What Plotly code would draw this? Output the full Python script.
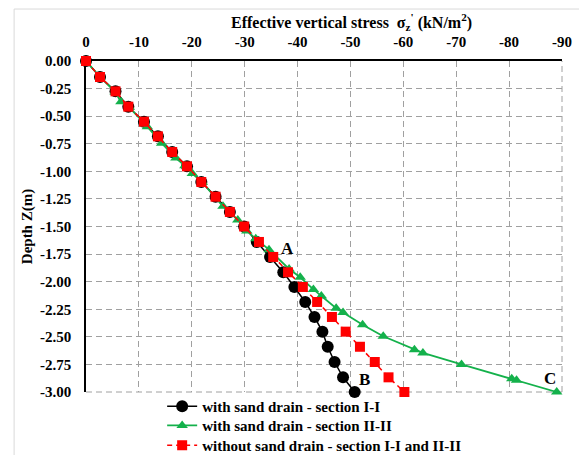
import plotly.graph_objects as go

# Depths (m)
depth_main = [0.0, -0.145, -0.275, -0.414, -0.55, -0.683, -0.825, -0.955, -1.097, -1.23,
              -1.368, -1.50, -1.64, -1.776, -1.915, -2.048, -2.184, -2.32, -2.453, -2.59,
              -2.728, -2.867, -3.0]

# without sand drain - section I-I and II-II
stress_no_drain = [0.0, -2.65, -5.58, -8.0, -10.96, -13.6, -16.3, -19.1, -21.8, -24.5,
                   -27.2, -29.9, -32.7, -35.4, -38.2, -41.0, -43.7, -46.5, -49.1, -51.8,
                   -54.6, -57.2, -60.2]

# with sand drain - section I-I
stress_drain_I = [0.0, -2.65, -5.58, -8.0, -10.96, -13.6, -16.3, -19.1, -21.8, -24.5,
                  -27.2, -29.9, -32.3, -34.8, -37.3, -39.4, -41.45, -43.2, -44.7, -45.7,
                  -47.0, -48.6, -50.8]

# with sand drain - section II-II
depth_II = [0.0, -0.145, -0.28, -0.37, -0.42, -0.57, -0.595, -0.745, -0.88, -0.95,
            -1.02, -1.10, -1.317, -1.44, -1.54, -1.61, -1.71, -1.885, -1.96, -2.07,
            -2.13, -2.24, -2.28, -2.39, -2.495, -2.616, -2.646, -2.75, -2.879, -2.894, -3.0]
stress_drain_II = [0.0, -2.65, -5.5, -6.6, -8.2, -11.1, -11.6, -14.3, -17.0, -18.7,
                   -20.1, -22.0, -25.9, -28.7, -30.4, -32.1, -34.6, -38.4, -40.5, -43.0,
                   -44.5, -47.3, -48.6, -52.3, -56.2, -62.1, -63.7, -71.0, -80.5, -81.4, -89.0]

x_ticks = [0, -10, -20, -30, -40, -50, -60, -70, -80, -90]
x_tick_text = ["0", "-10", "-20", "-30", "-40", "-50", "-60", "-70", "-80", "-90"]
y_ticks = [0.0, -0.25, -0.5, -0.75, -1.0, -1.25, -1.5, -1.75, -2.0, -2.25, -2.5, -2.75, -3.0]
y_tick_text = ["0.00", "-0.25", "-0.50", "-0.75", "-1.00", "-1.25", "-1.50", "-1.75",
               "-2.00", "-2.25", "-2.50", "-2.75", "-3.00"]

labels = ["A", "B", "C"]
label_x = [-38.1, -52.7, -87.8]
label_y = [-1.70, -2.89, -2.88]

FONT = "Liberation Serif"
GREEN = "#14b14b"
GRID = "#a0a0a0"
GRID_DASH = "6px,4px"

fig = go.Figure()
fig.add_trace(go.Scatter(
    x=stress_drain_I, y=depth_main, mode="lines+markers",
    name="<b>with sand drain - section I-I</b>", legend="legend", cliponaxis=False,
    line=dict(color="black", width=1.5),
    marker=dict(symbol="circle", size=12, color="black"),
))
fig.add_trace(go.Scatter(
    x=stress_drain_II, y=depth_II, mode="lines+markers",
    name="<b>with sand drain - section II-II</b>", legend="legend2", cliponaxis=False,
    line=dict(color=GREEN, width=1.8),
    marker=dict(symbol="triangle-up", size=10, color=GREEN),
))
fig.add_trace(go.Scatter(
    x=stress_no_drain, y=depth_main, mode="lines+markers",
    name="<b>without sand drain - section I-I and II-II</b>", legend="legend3", cliponaxis=False,
    line=dict(color="#ff0000", width=1.5, dash="5px,4px"),
    marker=dict(symbol="square", size=10, color="#ff0000"),
))

for t, xv, yv in zip(labels, label_x, label_y):
    fig.add_annotation(x=xv, y=yv, text="<b>" + t + "</b>", showarrow=False,
                       font=dict(family=FONT, size=17, color="black"))

# axis title (top), offset as in reference
fig.add_annotation(xref="paper", yref="paper", x=0.557, y=1.118, xanchor="center", yanchor="middle",
                   showarrow=False,
                   text="<b>Effective vertical stress  σ<sub>z</sub><sup>'</sup> (kN/m<sup>2</sup>)</b>",
                   font=dict(family=FONT, size=16, color="black"))

# edge gridlines (right and bottom)
fig.add_shape(type="line", xref="paper", yref="paper", x0=1, x1=1, y0=0, y1=1,
              line=dict(color=GRID, width=1, dash=GRID_DASH), layer="below")
fig.add_shape(type="line", xref="paper", yref="paper", x0=0, x1=1, y0=0, y1=0,
              line=dict(color=GRID, width=1, dash=GRID_DASH), layer="below")

# outer light border
fig.add_shape(type="rect", xref="paper", yref="paper", x0=-0.151, x1=1.2, y0=-0.5, y1=1.157,
              line=dict(color="#d9d9d9", width=1), fillcolor="rgba(0,0,0,0)", layer="below")

leg_common = dict(x=0.16, xanchor="left", yanchor="top", bgcolor="rgba(0,0,0,0)",
                  font=dict(family=FONT, size=15, color="black"))

fig.update_layout(
    width=579, height=455,
    margin=dict(l=86, r=17, t=61, b=63, autoexpand=False),
    paper_bgcolor="white", plot_bgcolor="white",
    font=dict(family=FONT, size=15, color="black"),
    showlegend=True,
    legend=dict(y=0.006, **leg_common),
    legend2=dict(y=-0.052, **leg_common),
    legend3=dict(y=-0.112, **leg_common),
    xaxis=dict(
        side="top", range=[0, -90], tickvals=x_ticks, ticktext=x_tick_text,
        tickfont=dict(family=FONT, size=15, color="black", weight="bold"),
        showgrid=True, gridcolor=GRID, griddash=GRID_DASH, gridwidth=1,
        showline=True, linecolor="black", linewidth=1.5, zeroline=False,
        ticks="", ticklabelstandoff=6, layer="below traces",
    ),
    yaxis=dict(
        range=[-3, 0], tickvals=y_ticks, ticktext=y_tick_text,
        tickfont=dict(family=FONT, size=15, color="black", weight="bold"),
        showgrid=True, gridcolor=GRID, griddash=GRID_DASH, gridwidth=1,
        showline=True, linecolor="black", linewidth=1.5, zeroline=False,
        ticks="", ticklabelstandoff=10, layer="below traces",
        title=dict(text="<b>Depth Z(m)</b>", font=dict(family=FONT, size=15, color="black"),
                   standoff=4),
    ),
)

fig.write_html("out.html")
